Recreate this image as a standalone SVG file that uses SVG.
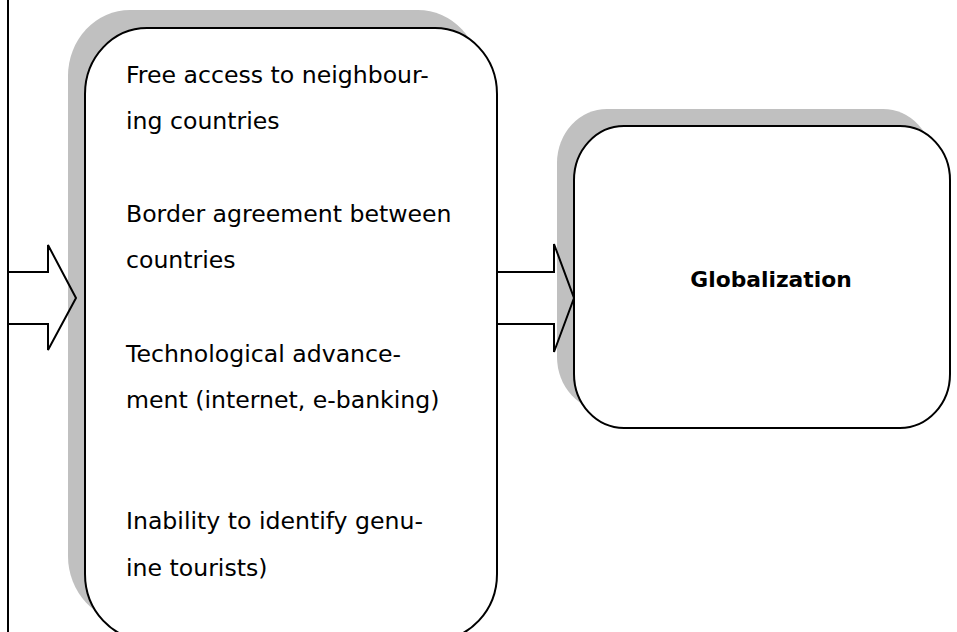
<svg xmlns="http://www.w3.org/2000/svg" width="957" height="632" viewBox="0 0 957 632">
<style>
.shadow{fill:#c0c0c0;stroke:none}
.box{fill:#fff;stroke:#000;stroke-width:2}
.arrow{fill:none;stroke:#000;stroke-width:2;stroke-linejoin:miter}
.t{font-family:"DejaVu Sans",Verdana,sans-serif;font-size:23.6px;fill:#000}
.b{font-family:"DejaVu Sans",Verdana,sans-serif;font-size:21.8px;font-weight:bold;fill:#000}
</style>
<rect width="957" height="632" fill="#fff"/>
<line x1="8" y1="0" x2="8" y2="632" stroke="#000" stroke-width="2"/>
<g id="causes">
  <rect class="shadow" x="68" y="10" width="412" height="612" rx="62" ry="66"/>
  <rect class="box" x="85" y="28" width="412" height="612" rx="62" ry="66"/>
  <text class="t" x="126" y="83">Free access to neighbour-</text>
  <text class="t" x="126" y="129">ing countries</text>
  <text class="t" x="126" y="222">Border agreement between</text>
  <text class="t" x="126" y="268">countries</text>
  <text class="t" x="126" y="362">Technological advance-</text>
  <text class="t" x="126" y="408">ment (internet, e-banking)</text>
  <text class="t" x="126" y="529">Inability to identify genu-</text>
  <text class="t" x="126" y="576">ine tourists)</text>
</g>
<g id="globalization">
  <rect class="shadow" x="557" y="109" width="376" height="302" rx="50" ry="54"/>
  <rect class="box" x="574" y="126" width="376" height="302" rx="50" ry="54"/>
  <text class="b" x="771" y="287" text-anchor="middle">Globalization</text>
</g>
<g id="connectors">
  <polyline class="arrow" points="8,272 48,272 48,245 76,298 48,350 48,324 8,324"/>
  <polyline class="arrow" points="497,272 554,272 554,244 574,298 554,352 554,324 497,324"/>
</g>
</svg>
